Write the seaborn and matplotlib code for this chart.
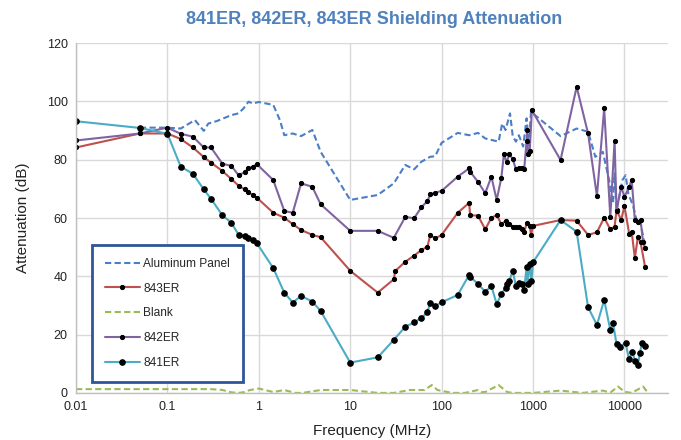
import matplotlib
matplotlib.use("Agg")
import matplotlib.pyplot as plt
import seaborn as sns
from matplotlib.ticker import FixedLocator, FixedFormatter, NullLocator

# frequencies in MHz, attenuation in dB
alu_f = [0.05, 0.1, 0.14, 0.2, 0.25, 0.28, 0.35, 0.5, 0.6, 0.68, 0.77, 0.86, 1.0, 1.44, 1.7,
         1.9, 2.35, 2.9, 3.85, 4.75, 10, 20, 30, 40, 50, 60, 75, 85, 100, 150, 200, 250, 300,
         420, 460, 500, 560, 600, 650, 700, 780, 850, 900, 950, 2000, 3000, 4000, 4800, 5800,
         6800, 7500, 7800, 8200, 9500, 10300, 11000, 12500, 13700, 14800, 16800]
alu_db = [91.0, 91.0, 90.7, 93.6, 89.9, 92.4, 93.3, 95.3, 95.9, 97.6, 99.9, 99.3, 99.8, 98.8, 93.6,
          88.4, 89.0, 88.1, 90.2, 82.7, 66.2, 67.9, 71.9, 78.2, 76.7, 79.3, 81.0, 81.2, 85.8, 89.2,
          88.4, 89.2, 87.3, 86.2, 92.4, 90.2, 95.9, 88.0, 86.2, 88.4, 84.5, 94.2, 85.0, 96.4, 88.1,
          90.7, 89.6, 81.0, 82.7, 73.0, 65.0, 75.3, 62.7, 73.0, 74.7, 68.5, 63.9, 58.7, 59.3, 50.2]

er843_f = [0.01, 0.05, 0.1, 0.14, 0.19, 0.25, 0.3, 0.4, 0.5, 0.6, 0.7, 0.77, 0.86, 0.95, 1.44,
           1.9, 2.35, 2.9, 3.85, 4.75, 10, 20, 30, 31, 40, 50, 60, 70, 75, 85, 100, 150, 200, 205,
           250, 300, 350, 400, 450, 500, 515, 550, 600, 650, 700, 750, 800, 850, 920, 950, 1000,
           2000, 3000, 4000, 5000, 6000, 7000, 7800, 8200, 9200, 10000, 11300, 12000, 13000,
           14000, 15000, 16800]
er843_db = [84.2, 89.0, 89.0, 87.1, 84.2, 80.9, 79.0, 76.1, 73.4, 71.1, 69.8, 68.8, 67.9, 67.0, 61.8,
            60.1, 57.9, 55.9, 54.2, 53.4, 41.9, 34.4, 39.0, 41.8, 45.0, 47.1, 49.0, 50.2, 54.2, 53.0,
            54.2, 61.8, 65.2, 61.0, 60.8, 56.1, 60.1, 61.0, 57.9, 59.0, 57.9, 58.1, 57.0, 57.0, 57.0,
            56.1, 55.1, 58.2, 57.4, 54.2, 57.3, 59.3, 59.1, 54.2, 55.1, 60.1, 56.1, 57.0, 62.7, 59.3,
            64.1, 54.4, 55.3, 46.2, 53.4, 51.7, 43.3]

blank_f = [0.01, 0.1, 0.3, 0.4, 0.5, 0.6, 0.7, 0.8, 1.0, 1.44, 1.9, 2.5, 3, 4.75, 10, 20, 30, 45,
           65, 78, 90, 130, 180, 250, 270, 300, 420, 520, 600, 1000, 2000, 3500, 5800, 7000,
           8500, 10000, 12000, 16000, 18000]
blank_db = [1.3, 1.3, 1.3, 1.0, 0.2, 0.0, 0.3, 1.0, 1.5, 0.3, 1.0, 0.0, 0.0, 1.0, 1.0, 0.0, 0.0, 1.0,
            1.0, 2.7, 1.0, 0.0, 0.0, 1.0, 0.3, 0.3, 2.7, 0.3, 0.0, 0.0, 0.8, 0.0, 0.8, 0.1,
            2.2, 0.4, 0.0, 2.2, 0.1]

er842_f = [0.01, 0.05, 0.1, 0.14, 0.19, 0.25, 0.3, 0.4, 0.5, 0.6, 0.7, 0.77, 0.86, 0.95, 1.44,
           1.9, 2.35, 2.9, 3.85, 4.75, 10, 20, 30, 40, 50, 60, 70, 75, 85, 100, 150, 200, 205,
           250, 300, 350, 400, 450, 480, 515, 550, 600, 650, 700, 750, 800, 850, 860, 880, 920,
           970, 2000, 3000, 4000, 5000, 6000, 7000, 7800, 8200, 9200, 10000, 11300, 12000,
           13000, 14000, 15000, 16000, 16800]
er842_db = [86.6, 89.0, 91.0, 88.9, 87.9, 84.2, 84.2, 78.6, 77.9, 74.7, 75.7, 77.1, 77.6, 78.5, 73.0,
            62.4, 61.8, 71.9, 70.7, 64.7, 55.6, 55.6, 53.2, 60.4, 59.9, 63.7, 65.8, 68.1, 68.7, 69.3,
            74.2, 77.0, 75.9, 72.4, 68.5, 74.2, 66.2, 73.8, 81.9, 79.1, 81.9, 80.2, 76.7, 77.0, 77.0,
            76.7, 86.4, 90.2, 81.9, 83.1, 97.0, 79.9, 105.0, 89.0, 67.5, 97.6, 60.4, 86.5, 62.5,
            70.7, 67.3, 70.7, 73.2, 59.3, 58.7, 59.3, 51.7, 49.6]

er841_f = [0.01, 0.05, 0.1, 0.14, 0.19, 0.25, 0.3, 0.4, 0.5, 0.6, 0.7, 0.77, 0.86, 0.95, 1.44,
           1.9, 2.35, 2.9, 3.85, 4.75, 10, 20, 30, 40, 50, 60, 70, 75, 85, 100, 150, 200, 205,
           250, 300, 350, 400, 450, 500, 515, 550, 600, 650, 700, 750, 800, 850, 870, 920, 960,
           1000, 2000, 3000, 4000, 5000, 6000, 7000, 7500, 8200, 9000, 10300, 11200, 12200,
           13000, 14000, 14800, 15500, 16800]
er841_db = [93.2, 90.9, 88.9, 77.6, 75.2, 69.8, 66.6, 60.9, 58.4, 54.3, 53.8, 53.2, 52.3, 51.4, 42.8,
            34.4, 31.0, 33.3, 31.3, 28.1, 10.4, 12.2, 18.2, 22.7, 24.2, 25.7, 27.7, 31.0, 29.8, 31.1,
            33.6, 40.5, 39.8, 37.4, 34.7, 36.7, 30.5, 33.9, 36.1, 37.3, 38.5, 41.8, 36.7, 37.6, 37.4,
            35.2, 43.3, 37.5, 44.2, 38.4, 44.8, 59.3, 55.3, 29.4, 23.3, 31.9, 21.6, 23.9, 16.7,
            15.9, 17.2, 11.5, 14.2, 11.0, 9.6, 13.8, 17.2, 16.2]

x_ticks = [0.01, 0.1, 1, 10, 100, 1000, 10000]
x_labels = ["0.01", "0.1", "1", "10", "100", "1000", "10000"]
y_ticks = [0, 20, 40, 60, 80, 100, 120]

sns.set_theme(style="whitegrid")
plt.rcParams['font.family'] = ['Liberation Sans', 'DejaVu Sans']

fig, ax = plt.subplots(figsize=(6.81, 4.40), dpi=100)
fig.subplots_adjust(left=0.1116, right=0.981, top=0.902, bottom=0.107)

dash = (0, (3, 1.6))
sns.lineplot(x=alu_f, y=alu_db, ax=ax, sort=False, estimator=None, color="#4A7EC7",
             linewidth=1.5, linestyle=dash, label="Aluminum Panel")
sns.lineplot(x=er843_f, y=er843_db, ax=ax, sort=False, estimator=None, color="#C0504D",
             linewidth=1.5, marker="o", markersize=3.0, markerfacecolor="black",
             markeredgecolor="black", label="843ER")
sns.lineplot(x=blank_f, y=blank_db, ax=ax, sort=False, estimator=None, color="#9BBB59",
             linewidth=1.5, linestyle=dash, label="Blank")
sns.lineplot(x=er842_f, y=er842_db, ax=ax, sort=False, estimator=None, color="#8064A2",
             linewidth=1.5, marker="o", markersize=3.0, markerfacecolor="black",
             markeredgecolor="black", label="842ER")
sns.lineplot(x=er841_f, y=er841_db, ax=ax, sort=False, estimator=None, color="#4BACC6",
             linewidth=1.5, marker="o", markersize=4.0, markerfacecolor="black",
             markeredgecolor="black", label="841ER")

ax.set_xscale("log")
ax.set_xlim(0.01, 30000)
ax.set_ylim(0, 120)
ax.xaxis.set_major_locator(FixedLocator(x_ticks))
ax.xaxis.set_major_formatter(FixedFormatter(x_labels))
ax.xaxis.set_minor_locator(NullLocator())
ax.set_yticks(y_ticks)
ax.tick_params(labelsize=9, colors="#222222", length=0, pad=6)
ax.grid(True, color="#D9D9D9", linewidth=1)

for s in ["top", "right"]:
    ax.spines[s].set_visible(False)
for s in ["left", "bottom"]:
    ax.spines[s].set_color("#BFBFBF")
    ax.spines[s].set_linewidth(1)

ax.set_xlabel("Frequency (MHz)", fontsize=11, color="#222222", labelpad=8)
ax.set_ylabel("Attenuation (dB)", fontsize=11, color="#222222", labelpad=12)
fig.suptitle("841ER, 842ER, 843ER Shielding Attenuation", x=0.549, y=0.975,
             fontsize=13, fontweight="bold", color="#4F81BD")

leg = ax.legend(loc="lower left", bbox_to_anchor=(0.027, 0.03), fontsize=8.6,
                frameon=True, fancybox=False, handlelength=2.9, handletextpad=0.3,
                labelspacing=1.08, borderpad=1.1, borderaxespad=0)
leg.get_frame().set_edgecolor("#2F5597")
leg.get_frame().set_linewidth(2)
leg.get_frame().set_facecolor("white")
leg.get_frame().set_alpha(1)

fig.savefig("out.png", dpi=100)
